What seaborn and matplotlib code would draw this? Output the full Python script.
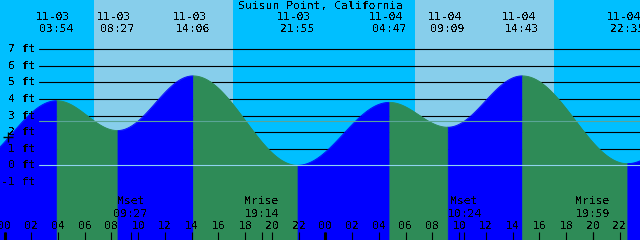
import numpy as np
import pandas as pd
import matplotlib
matplotlib.use("Agg")
import matplotlib.pyplot as plt
import seaborn as sns

# ---------------- data ----------------
title = "Suisun Point, California"
tide_dates = ["11-03", "11-03", "11-03", "11-03", "11-04", "11-04", "11-04", "11-04"]
tide_times = ["03:54", "08:27", "14:06", "21:55", "04:47", "09:09", "14:43", "22:35"]
tide_levels = [3.9, 2.1, 5.4, 0.0, 3.8, 2.3, 5.4, 0.1]
# unlabeled turning points just outside the window (they shape the curve ends)
edge_dates = ["11-02", "11-05"]
edge_times = ["21:18", "05:30"]
edge_levels = [0.0, 3.8]
moon_events = ["Mset", "Mrise", "Mset", "Mrise"]
moon_dates = ["11-03", "11-03", "11-04", "11-04"]
moon_times = ["09:27", "19:14", "10:24", "19:59"]
sunrise = ["11-03 06:40", "11-04 06:41"]
sunset = ["11-03 17:06", "11-04 17:05"]
mean_level = 2.7
level_lines = [7, 6, 5, 4, 3, 2, 1]
level_labels = [7, 6, 5, 4, 3, 2, 1, 0, -1]
hour_ticks = list(range(0, 49, 2))
hour_labels = ["%02d" % (h % 24) for h in hour_ticks]
now_stamp = "11-03 00:17"
now_level = 1.7

# ---------------- helpers ----------------
def hours(stamp):
    d, t = stamp.split()
    day = int(d.split("-")[1]) - 3
    hh, mm = t.split(":")
    return day * 24 + int(hh) + int(mm) / 60.0

tide_h = [hours(d + " " + t) for d, t in zip(tide_dates, tide_times)]
all_t = [hours(edge_dates[0] + " " + edge_times[0])] + tide_h + [hours(edge_dates[1] + " " + edge_times[1])]
all_v = [edge_levels[0]] + tide_levels + [edge_levels[1]]

rows = []
for i in range(len(all_t) - 1):
    t1, t2, v1, v2 = all_t[i], all_t[i + 1], all_v[i], all_v[i + 1]
    ts = np.linspace(t1, t2, 120)
    hs = v1 + (v2 - v1) * (1 - np.cos(np.pi * (ts - t1) / (t2 - t1))) / 2
    phase = "rise" if v2 > v1 else "fall"
    for a, b in zip(ts, hs):
        rows.append((i, phase, a, b))
curve = pd.DataFrame(rows, columns=["seg", "phase", "t", "h"])

# ---------------- figure ----------------
sns.set_theme(style="white")
plt.rcParams["font.family"] = ["DejaVu Sans Mono", "DejaVu Sans"]
plt.rcParams["text.antialiased"] = False

W, H = 640, 240
XMIN, XMAX = -0.337, 47.53
YMIN, YMAX = -4.51, 9.98
NIGHT, DAY = "#00bfff", "#87ceeb"
RISE, FALL = "#0000ff", "#2e8b57"

fig = plt.figure(figsize=(6.4, 2.4), dpi=100, facecolor=NIGHT)
ax = fig.add_axes([0, 0, 1, 1])

for s, e in zip(sunrise, sunset):
    ax.axvspan(hours(s), hours(e), color=DAY, lw=0, zorder=0)

line_x0 = 39.3 / W
for lv in level_lines:
    ax.axhline(lv, xmin=line_x0, xmax=1, color="black", lw=0.8, zorder=1)

pal = {"rise": RISE, "fall": FALL}
for seg, g in curve.groupby("seg"):
    c = pal[g["phase"].iloc[0]]
    ax.fill_between(g["t"], g["h"], YMIN, color=c, lw=0.5, edgecolor=c, zorder=2)
sns.lineplot(data=curve, x="t", y="h", hue="phase", units="seg", estimator=None,
             palette=pal, legend=False, lw=0.6, ax=ax, zorder=3)
ax.set_xlim(XMIN, XMAX)
ax.set_ylim(YMIN, YMAX)
ax.axis("off")

ax.axhline(0, xmin=line_x0, xmax=1, color="#8fd3f0", lw=0.8, zorder=4)
ax.axhline(mean_level, xmin=line_x0, xmax=1, color="#5aa597", lw=0.8, zorder=4)

ax.plot([hours(now_stamp)], [now_level], marker="+", color="black", ms=7, mew=1.0, zorder=6)

xt = ax.get_xaxis_transform()
fy = lambda ypx: 1 - ypx / H
fs = 8.2

# level labels
for lv in level_labels:
    ax.text(35 / W, lv, "%d ft" % lv, transform=ax.get_yaxis_transform(),
            ha="right", va="center", fontsize=fs, color="black", zorder=7)

# title
ax.text(0.5, fy(6), title, transform=ax.transAxes, ha="center", va="center",
        fontsize=fs, color="black", zorder=7)

# tide event labels
px_per_h = W / (XMAX - XMIN)
for th, d, t in zip(tide_h, tide_dates, tide_times):
    ax.text(th - 3.4 / px_per_h, fy(17.5), d, transform=xt, ha="center", va="center",
            fontsize=fs, color="black", zorder=7)
    ax.text(th, fy(29.5), t, transform=xt, ha="center", va="center",
            fontsize=fs, color="black", zorder=7)

# moon events
moon_h = [hours(d + " " + t) for d, t in zip(moon_dates, moon_times)]
for mh, name, t in zip(moon_h, moon_events, moon_times):
    ax.text(mh, fy(201.5), name, transform=xt, ha="center", va="center",
            fontsize=fs, color="black", zorder=7)
    ax.text(mh, fy(214), t, transform=xt, ha="center", va="center",
            fontsize=fs, color="black", zorder=7)

# hour ticks and labels
ax.vlines(hour_ticks, 0, 8 / H, transform=xt, color="black", lw=0.8, zorder=7)
ax.vlines(moon_h, 0, 8 / H, transform=xt, color="black", lw=0.8, zorder=7)
ax.vlines([0, 24], 0, 8 / H, transform=xt, color="black", lw=2.2, zorder=7)
for h, lab in zip(hour_ticks, hour_labels):
    ax.text(h, fy(226), lab, transform=xt, ha="center", va="center",
            fontsize=fs, color="black", zorder=7)

fig.savefig("out.png", dpi=100, facecolor=NIGHT)
